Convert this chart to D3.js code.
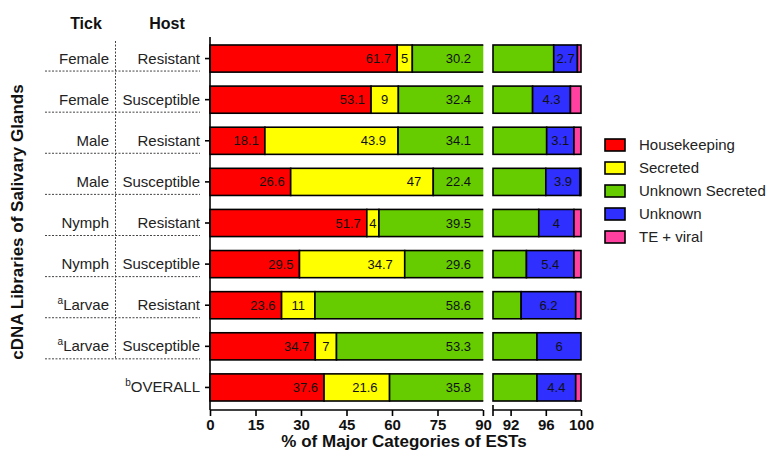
<!DOCTYPE html>
<html>
<head>
<meta charset="utf-8">
<script src="https://cdn.jsdelivr.net/npm/d3@7"></script>
<style>
  body { margin: 0; background: #fff; }
  svg { display: block; font-family: Arial, "Liberation Sans", sans-serif; }
</style>
</head>
<body>
<svg id="chart" width="768" height="457"></svg>
<script>
// Library labels (tick life stage, host type) and superscript notes
const tickStage = ["Female", "Female", "Male", "Male", "Nymph", "Nymph", "Larvae", "Larvae", "OVERALL"];
const tickNote  = ["", "", "", "", "", "", "a", "a", "b"];
const hostType  = ["Resistant", "Susceptible", "Resistant", "Susceptible", "Resistant", "Susceptible", "Resistant", "Susceptible", ""];

// Percent of ESTs per major category, one value per library
const housekeeping    = [61.7, 53.1, 18.1, 26.6, 51.7, 29.5, 23.6, 34.7, 37.6];
const secreted        = [5, 9, 43.9, 47, 4, 34.7, 11, 7, 21.6];
const unknownSecreted = [30.2, 32.4, 34.1, 22.4, 39.5, 29.6, 58.6, 53.3, 35.8];
const unknown         = [2.7, 4.3, 3.1, 3.9, 4, 5.4, 6.2, 6, 4.4];
const teViral         = [0.4, 1.2, 0.8, 0.1, 0.8, 0.8, 0.6, 0, 0.6];

const categories = ["Housekeeping", "Secreted", "Unknown Secreted", "Unknown", "TE + viral"];
const colors = ["#ff0000", "#ffff00", "#66cc00", "#2f2fff", "#ff40a0"];

// Axis ticks for the two panels of the broken axis
const leftTicks = [0, 15, 30, 45, 60, 75, 90];
const rightTicks = [92, 96, 100];

const series = [housekeeping, secreted, unknownSecreted, unknown, teViral];
const rows = tickStage.map((t, i) => ({ i, t, note: tickNote[i], host: hostType[i] }));

const svg = d3.select("#chart");

const xL = d3.scaleLinear().domain([0, 90]).range([210, 483]);
const xR = d3.scaleLinear().domain([90, 100]).range([493, 581]).clamp(true);
const y = d3.scaleBand().domain(rows.map(r => r.i)).range([38, 408]).paddingInner(0.34).paddingOuter(0.17);

// stacked segments
const segs = [];
rows.forEach(r => {
  let acc = 0;
  series.forEach((s, k) => {
    const v = s[r.i];
    segs.push({ row: r.i, k, x0: acc, x1: acc + v, v });
    acc += v;
  });
});

const defs = svg.append("defs");
defs.append("clipPath").attr("id", "clipL").append("rect")
  .attr("x", 205).attr("y", 0).attr("width", 483 - 205 + 0.3).attr("height", 457);
defs.append("clipPath").attr("id", "clipR").append("rect")
  .attr("x", 491).attr("y", 0).attr("width", 95).attr("height", 457);

const gL = svg.append("g").attr("clip-path", "url(#clipL)");
gL.selectAll("rect").data(segs.filter(d => d.x0 < 90 && d.v > 0)).join("rect")
  .attr("x", d => xL(d.x0))
  .attr("width", d => xL(d.x1) - xL(d.x0))
  .attr("y", d => y(d.row))
  .attr("height", y.bandwidth())
  .attr("fill", d => colors[d.k])
  .attr("stroke", "#000").attr("stroke-width", 1.6);

const gR = svg.append("g").attr("clip-path", "url(#clipR)");
gR.selectAll("rect").data(segs.filter(d => d.x1 > 90 && d.v > 0)).join("rect")
  .attr("x", d => xR(d.x0))
  .attr("width", d => xR(d.x1) - xR(d.x0))
  .attr("y", d => y(d.row))
  .attr("height", y.bandwidth())
  .attr("fill", d => colors[d.k])
  .attr("stroke", "#000").attr("stroke-width", 1.6);

// value labels
const labelFont = 13;
const lbl = svg.append("g").attr("font-size", labelFont).attr("fill", "#111");
segs.forEach(d => {
  const cy = y(d.row) + y.bandwidth() / 2 + 4.5;
  if (d.k === 0) {
    lbl.append("text").attr("x", xL(d.x1) - 6).attr("y", cy).attr("text-anchor", "end").text(d.v);
  } else if (d.k === 1) {
    const w = xL(d.x1) - xL(d.x0);
    if (w > 60) {
      lbl.append("text").attr("x", xL(d.x1) - 12).attr("y", cy).attr("text-anchor", "end").text(d.v);
    } else {
      lbl.append("text").attr("x", (xL(d.x0) + xL(d.x1)) / 2).attr("y", cy).attr("text-anchor", "middle").text(d.v);
    }
  } else if (d.k === 2) {
    lbl.append("text").attr("x", xL(90) - 12).attr("y", cy).attr("text-anchor", "end").text(d.v);
  } else if (d.k === 3) {
    lbl.append("text").attr("x", (xR(d.x0) + xR(d.x1)) / 2).attr("y", cy).attr("text-anchor", "middle").text(d.v);
  }
});

// axes
const axisY = 410;
const gxL = svg.append("g").attr("transform", `translate(0,${axisY})`)
  .call(d3.axisBottom(xL).tickValues(leftTicks).tickSize(6).tickPadding(3));
const gxR = svg.append("g").attr("transform", `translate(0,${axisY})`)
  .call(d3.axisBottom(xR).tickValues(rightTicks).tickSize(6).tickPadding(3));
[gxL, gxR].forEach(g => {
  g.select(".domain").attr("stroke", "#000").attr("stroke-width", 1.6);
  g.selectAll(".tick line").attr("stroke", "#000").attr("stroke-width", 1.6);
  g.selectAll(".tick text").attr("font-size", 15).attr("font-weight", "bold").attr("fill", "#111")
    .attr("font-family", "Arial, 'Liberation Sans', sans-serif");
});
gxL.select(".domain").attr("d", `M${xL(0)},0H${xL(90)}`);
gxR.select(".domain").attr("d", `M${xR(90)},-5V6M${xR(90)},0H${xR(100)}`);

const gy = svg.append("g").attr("transform", `translate(${xL(0)},0)`)
  .call(d3.axisLeft(y).tickSize(5).tickFormat(""));
gy.select(".domain").attr("d", `M0,37V${axisY}`).attr("stroke", "#000").attr("stroke-width", 1.6);
gy.selectAll(".tick line").attr("stroke", "#000").attr("stroke-width", 1.6);

// category labels
const catG = svg.append("g").attr("font-size", 15).attr("fill", "#222");
rows.forEach(r => {
  const cy = y(r.i) + y.bandwidth() / 2 + 5;
  if (r.host) {
    catG.append("text").attr("x", 200).attr("y", cy).attr("text-anchor", "end").text(r.host);
    const t = catG.append("text").attr("x", 109).attr("y", cy).attr("text-anchor", "end");
    if (r.note) t.append("tspan").attr("font-size", 10).attr("dy", -6).text(r.note);
    t.append("tspan").attr("dy", r.note ? 6 : 0).text(r.t);
  } else {
    const t = catG.append("text").attr("x", 200).attr("y", cy).attr("text-anchor", "end");
    if (r.note) t.append("tspan").attr("font-size", 10).attr("dy", -6).text(r.note);
    t.append("tspan").attr("dy", r.note ? 6 : 0).text(r.t);
  }
});

// dotted grid between labels
const grid = svg.append("g").attr("stroke", "#444").attr("stroke-width", 1).attr("stroke-dasharray", "2,1.5");
const hostRows = rows.filter(r => r.host);
hostRows.forEach(r => {
  const yy = y(r.i) + y.bandwidth() / 2 + 12.5;
  grid.append("line").attr("x1", 45).attr("x2", 200).attr("y1", yy).attr("y2", yy);
});
const lastHost = hostRows[hostRows.length - 1];
grid.append("line").attr("x1", 115.5).attr("x2", 115.5).attr("y1", 41)
  .attr("y2", y(lastHost.i) + y.bandwidth() / 2 + 12.5);

// column headers
svg.append("text").attr("x", 86).attr("y", 29).attr("text-anchor", "middle")
  .attr("font-size", 16).attr("font-weight", "bold").attr("fill", "#111").text("Tick");
svg.append("text").attr("x", 167).attr("y", 29).attr("text-anchor", "middle")
  .attr("font-size", 16).attr("font-weight", "bold").attr("fill", "#111").text("Host");

// axis titles
svg.append("text").attr("x", 404).attr("y", 447).attr("text-anchor", "middle")
  .attr("font-size", 17).attr("font-weight", "bold").attr("fill", "#111")
  .text("% of Major Categories of ESTs");
svg.append("text").attr("transform", "translate(23,222) rotate(-90)").attr("text-anchor", "middle")
  .attr("font-size", 17).attr("font-weight", "bold").attr("fill", "#111")
  .text("cDNA Libraries of Salivary Glands");

// legend
const leg = svg.append("g").attr("transform", "translate(605,145)");
categories.forEach((c, k) => {
  const g = leg.append("g").attr("transform", `translate(0,${k * 23})`);
  g.append("rect").attr("x", 0).attr("y", -6).attr("width", 20).attr("height", 12)
    .attr("fill", colors[k]).attr("stroke", "#000").attr("stroke-width", 1.6);
  g.append("text").attr("x", 34).attr("y", 5).attr("font-size", 15).attr("fill", "#222").text(c);
});
</script>
</body>
</html>
